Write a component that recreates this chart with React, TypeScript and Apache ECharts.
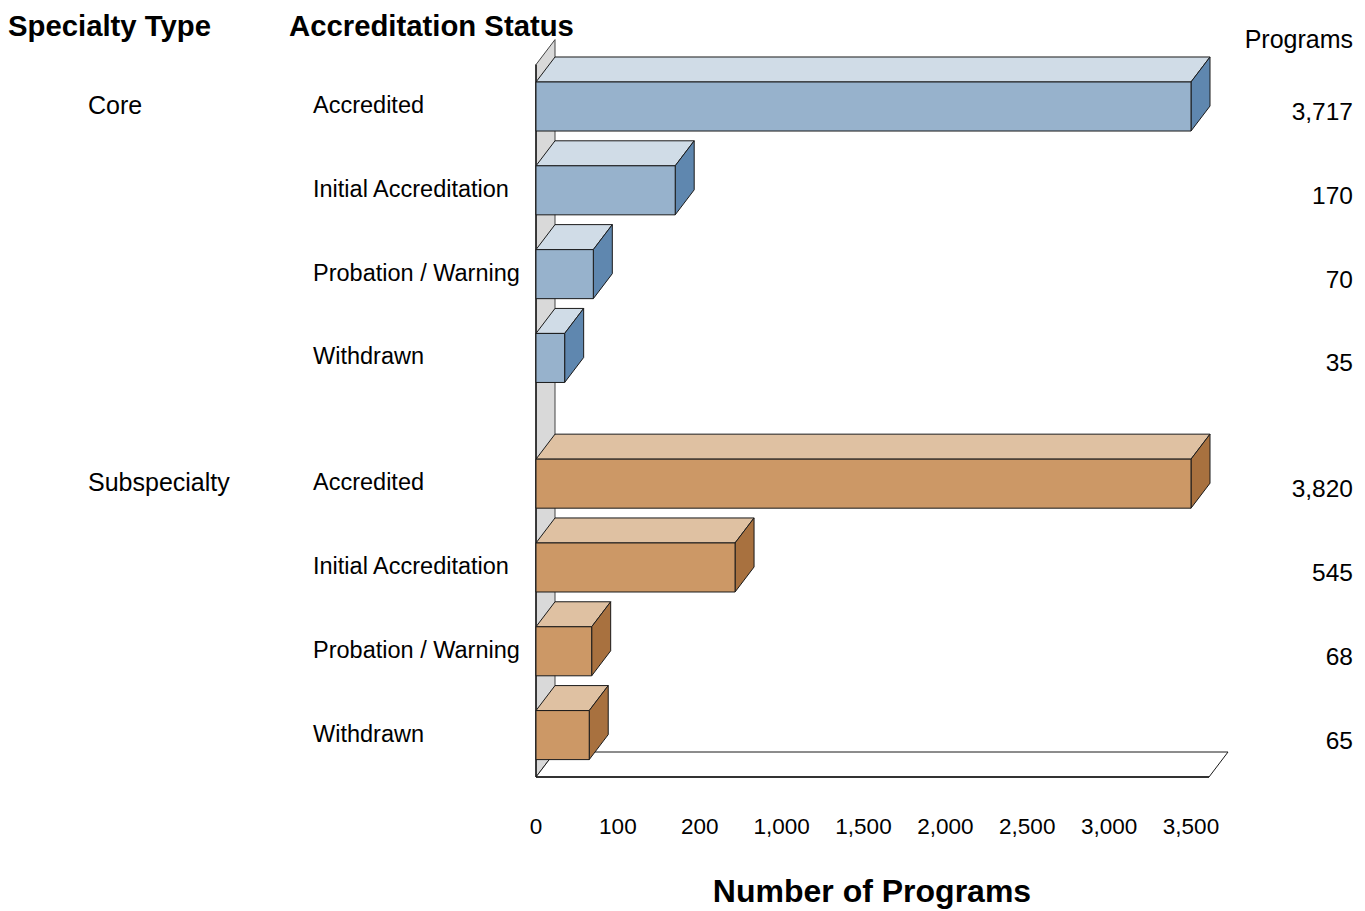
import React, { useEffect, useRef } from 'react';
import * as echarts from 'echarts';

// ---------- data ----------
const specialtyTypes = ['Core', 'Subspecialty'];
const statuses = ['Accredited', 'Initial Accreditation', 'Probation / Warning', 'Withdrawn'];
const coreValues = [3717, 170, 70, 35];
const subspecialtyValues = [3820, 545, 68, 65];
const tickValues = [0, 100, 200, 1000, 1500, 2000, 2500, 3000, 3500];
const tickLabels = ['0', '100', '200', '1,000', '1,500', '2,000', '2,500', '3,000', '3,500'];

// ---------- layout / style constants ----------
const FONT = '"Liberation Sans", Arial, Helvetica, sans-serif';
const GROUP_GAP = 0.5;
const BAR_THICK = 0.585;
const DX = 19;
const DY = -25;
const AXIS_OVERHANG = 0.22;
const EDGE = '#1a1a1a';
const palettes = [
  { front: '#97B2CC', top: '#D0DCE7', side: '#5F87AF' },
  { front: '#CC9866', top: '#DFC1A2', side: '#A8713F' },
];

// piecewise-linear (broken) axis: value -> tick index units
function toAxis(v: number): number {
  if (v <= tickValues[0]) return 0;
  for (let i = 1; i < tickValues.length; i++) {
    if (v <= tickValues[i]) {
      return i - 1 + (v - tickValues[i - 1]) / (tickValues[i] - tickValues[i - 1]);
    }
  }
  return tickValues.length - 1; // clipped at last tick
}

const groupValues = [coreValues, subspecialtyValues];
const barData: number[][] = [];
groupValues.forEach((vals, g) => {
  vals.forEach((v, i) => {
    const row = g * (statuses.length + GROUP_GAP) + i;
    barData.push([toAxis(v), row, g, v, i]);
  });
});
const lastRow = (specialtyTypes.length - 1) * (statuses.length + GROUP_GAP) + statuses.length - 1;
const yMin = -0.5;
const yMax = lastRow + 0.5;
const xMax = tickValues.length - 1;

export default function App() {
  const ref = useRef<HTMLDivElement>(null);
  useEffect(() => {
    if (!ref.current) return;
    const chart = echarts.init(ref.current, undefined, { renderer: 'svg' });
    const textStyle = (size: number, bold = false) => ({
      fontSize: size,
      fontFamily: FONT,
      fontWeight: bold ? 'bold' : 'normal',
      fill: '#000',
    });
    chart.setOption({
      animation: false,
      backgroundColor: '#fff',
      grid: { left: 536, top: 64.6, right: 174, bottom: 134, containLabel: false },
      xAxis: {
        type: 'value',
        min: 0,
        max: xMax,
        interval: 1,
        axisLine: { show: false },
        splitLine: { show: false },
        axisTick: { show: true, length: 20, lineStyle: { color: '#555', width: 1 } },
        axisLabel: {
          margin: 38,
          fontSize: 22.5,
          fontFamily: FONT,
          color: '#000',
          formatter: (v: number) => tickLabels[Math.round(v)] ?? '',
        },
      },
      yAxis: {
        type: 'value',
        inverse: true,
        min: yMin,
        max: yMax,
        show: false,
      },
      graphic: [
        { type: 'text', x: 8, y: 25, style: { ...textStyle(29.3, true), text: 'Specialty Type', textAlign: 'left', textVerticalAlign: 'middle' } },
        { type: 'text', x: 289, y: 25, style: { ...textStyle(29.3, true), text: 'Accreditation Status', textAlign: 'left', textVerticalAlign: 'middle' } },
        { type: 'text', x: 1353, y: 39, style: { ...textStyle(25), text: 'Programs', textAlign: 'right', textVerticalAlign: 'middle' } },
        { type: 'text', x: 872, y: 891, style: { ...textStyle(32, true), text: 'Number of Programs', textAlign: 'center', textVerticalAlign: 'middle' } },
      ],
      series: [
        {
          type: 'custom',
          z: 1,
          clip: false,
          data: [[0]],
          renderItem: (params: any, api: any) => {
            const tl = api.coord([0, yMin]);
            const bl = api.coord([0, yMax]);
            const br = api.coord([xMax + AXIS_OVERHANG, yMax]);
            return {
              type: 'group',
              children: [
                {
                  type: 'polygon',
                  shape: { points: [[tl[0], tl[1]], [tl[0] + DX, tl[1] + DY], [bl[0] + DX, bl[1] + DY], [bl[0], bl[1]]] },
                  style: { fill: '#D9D9D9', stroke: '#444', lineWidth: 1 },
                },
                {
                  type: 'polygon',
                  shape: { points: [[bl[0], bl[1]], [br[0], br[1]], [br[0] + DX, br[1] + DY], [bl[0] + DX, bl[1] + DY]] },
                  style: { fill: '#fff', stroke: EDGE, lineWidth: 1 },
                },
                {
                  type: 'line',
                  shape: { x1: bl[0], y1: bl[1], x2: br[0], y2: br[1] },
                  style: { stroke: '#333', lineWidth: 2 },
                },
                {
                  type: 'line',
                  shape: { x1: tl[0], y1: tl[1], x2: bl[0], y2: bl[1] },
                  style: { stroke: EDGE, lineWidth: 1.5 },
                },
              ],
            };
          },
        },
        {
          type: 'custom',
          z: 2,
          clip: false,
          data: barData,
          renderItem: (params: any, api: any) => {
            const v = api.value(0);
            const row = api.value(1);
            const g = api.value(2);
            const raw = api.value(3);
            const si = api.value(4);
            const start = api.coord([0, row]);
            const end = api.coord([v, row]);
            const h = api.size([0, BAR_THICK])[1];
            const x0 = start[0];
            const x1 = end[0];
            const y0 = start[1] - h / 2;
            const y1 = start[1] + h / 2;
            const pal = palettes[g];
            const children: any[] = [
              {
                type: 'polygon',
                shape: { points: [[x0, y0], [x0 + DX, y0 + DY], [x1 + DX, y0 + DY], [x1, y0]] },
                style: { fill: pal.top, stroke: EDGE, lineWidth: 1 },
              },
              {
                type: 'polygon',
                shape: { points: [[x1, y0], [x1 + DX, y0 + DY], [x1 + DX, y1 + DY], [x1, y1]] },
                style: { fill: pal.side, stroke: EDGE, lineWidth: 1 },
              },
              {
                type: 'rect',
                shape: { x: x0, y: y0, width: x1 - x0, height: h },
                style: { fill: pal.front, stroke: EDGE, lineWidth: 1 },
              },
              {
                type: 'text',
                x: 313,
                y: start[1] - 1.5,
                style: { ...textStyle(23.5), text: statuses[si], textAlign: 'left', textVerticalAlign: 'middle' },
              },
              {
                type: 'text',
                x: 1353,
                y: start[1] + 5,
                style: { ...textStyle(24.5), text: Number(raw).toLocaleString('en-US'), textAlign: 'right', textVerticalAlign: 'middle' },
              },
            ];
            if (si === 0) {
              children.push({
                type: 'text',
                x: 88,
                y: start[1] - 1.5,
                style: { ...textStyle(25), text: specialtyTypes[g], textAlign: 'left', textVerticalAlign: 'middle' },
              });
            }
            return { type: 'group', children };
          },
        },
      ],
    });
    return () => chart.dispose();
  }, []);
  return <div ref={ref} style={{ position: 'absolute', left: 0, top: 0, width: 1365, height: 911 }} />;
}
